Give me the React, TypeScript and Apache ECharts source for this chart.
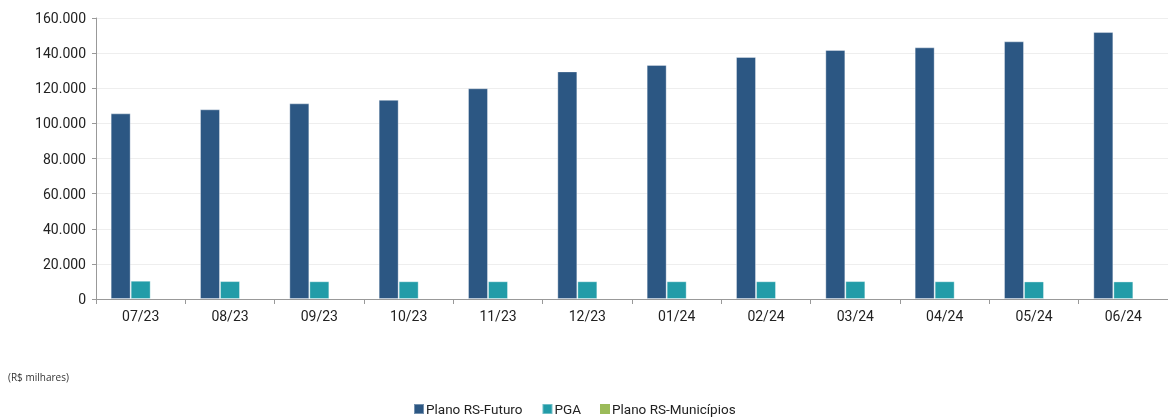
import React, { useEffect, useRef } from "react";
import * as echarts from "echarts";

const categories = ["07/23", "08/23", "09/23", "10/23", "11/23", "12/23", "01/24", "02/24", "03/24", "04/24", "05/24", "06/24"];
const rsFuturo = [105700, 108000, 111400, 113400, 120000, 129600, 133300, 137800, 141800, 143300, 146700, 152000];
const pga = [10400, 10200, 10100, 10100, 10100, 10100, 10100, 10100, 10200, 10100, 10000, 10000];
const rsMunicipios = [0, 0, 0, 0, 0, 0, 0, 0, 0, 0, 0, 0];

const fmt = (v: number) => String(v).replace(/\B(?=(\d{3})+(?!\d))/g, ".");

export default function App() {
  const ref = useRef<HTMLDivElement>(null);
  useEffect(() => {
    if (!ref.current) return;
    const chart = echarts.init(ref.current, null, { renderer: "svg" });
    const border = { borderColor: "rgba(255,255,255,0.35)", borderWidth: 1 };
    chart.setOption({
      animation: false,
      textStyle: { fontFamily: "Roboto" },
      grid: { left: 96, right: -1, top: 18, bottom: 120, containLabel: false },
      xAxis: {
        type: "category",
        data: categories,
        axisLine: { lineStyle: { color: "#999" } },
        axisTick: { show: true, length: 5, lineStyle: { color: "#999" } },
        axisLabel: { color: "#222", fontSize: 14, margin: 10, fontFamily: "Roboto" },
      },
      yAxis: {
        type: "value",
        min: 0,
        max: 160000,
        interval: 20000,
        axisLine: { show: true, lineStyle: { color: "#999" } },
        axisTick: { show: true, length: 4, lineStyle: { color: "#999" } },
        splitLine: { lineStyle: { color: "#eeeeee" } },
        axisLabel: { color: "#222", fontSize: 14, margin: 10, fontFamily: "Roboto", formatter: (v: number) => fmt(v) },
      },
      legend: {
        bottom: 3,
        left: 413,
        padding: 0,
        itemWidth: 10,
        itemHeight: 10,
        itemGap: 19,
        icon: "rect",
        textStyle: { color: "#222", fontSize: 13.5, fontFamily: "Roboto", padding: [0, 0, 0, -3] },
        data: ["Plano RS-Futuro", "PGA", "Plano RS-Municípios"],
      },
      graphic: [
        {
          type: "text",
          left: 8,
          top: 372,
          style: { text: "(R$ milhares)", fontSize: 10, fill: "#333", fontFamily: "Open Sans" },
        },
      ],
      series: [
        { name: "Plano RS-Futuro", type: "bar", data: rsFuturo, barWidth: 20, barGap: "0%", itemStyle: { color: "#2C5783", ...border } },
        { name: "PGA", type: "bar", data: pga, barWidth: 20, barGap: "0%", itemStyle: { color: "#229CA8", ...border } },
        { name: "Plano RS-Municípios", type: "bar", data: rsMunicipios, barWidth: 20, barGap: "0%", itemStyle: { color: "#9BBB59" } },
      ],
    });
    return () => chart.dispose();
  }, []);
  return <div ref={ref} style={{ position: "fixed", left: 0, top: 0, width: 1168, height: 419 }} />;
}
